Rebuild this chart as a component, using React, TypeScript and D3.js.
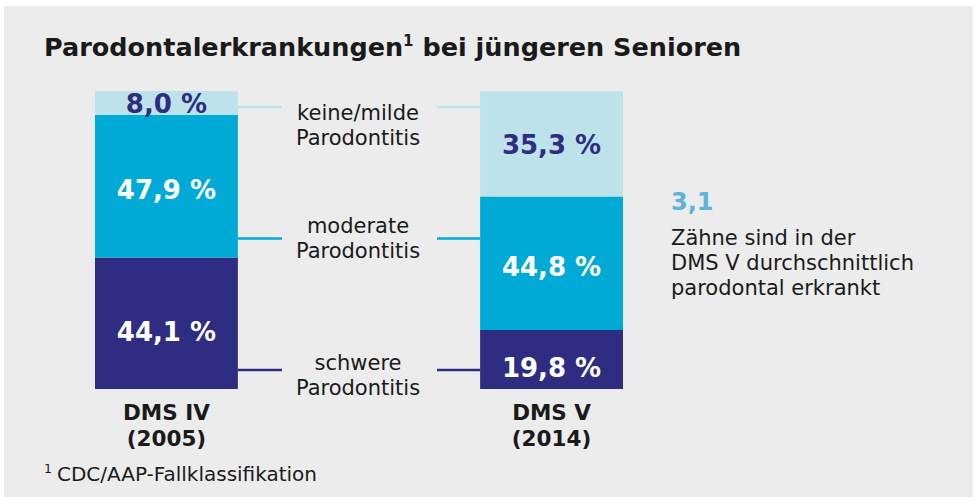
import React from 'react'
import * as d3 from 'd3'

const studies = ['DMS IV', 'DMS V']
const years = ['(2005)', '(2014)']
const severities = ['keine/milde', 'moderate', 'schwere']
const mild = [8.0, 35.3]
const moderate = [47.9, 44.8]
const severe = [44.1, 19.8]

const W = 978
const H = 501
const colors = ['#bde2ea', '#00aad6', '#2e2d82']
const labelColors = ['#2e2d82', '#ffffff', '#ffffff']
const labelShift = [0, 3, 8]
const legendDy = [13, -6, 0]

export default function App() {
  const x = d3.scaleBand().domain(studies).range([95, 623]).paddingInner(0.629)
  const y = d3.scaleLinear().domain([0, 100]).range([389, 91])
  const legendY = d3.scalePoint().domain(severities).range([107, 370])

  // stack from the bottom: schwere, moderate, keine/milde
  const rows = studies.map((s, i) => ({ study: s, keine: mild[i], moderate: moderate[i], schwere: severe[i] }))
  const stack = d3.stack<any>().keys(['schwere', 'moderate', 'keine'])(rows)
  const keyIdx: Record<string, number> = { keine: 0, moderate: 1, schwere: 2 }

  const fmt = (v: number) => v.toFixed(1).replace('.', ',') + ' %'
  const bw = x.bandwidth()
  const legendCx = 358

  return (
    <svg width={W} height={H} style={{ position: 'absolute', left: 0, top: 0, fontFamily: 'DejaVu Sans' }}>
      <rect x={0} y={0} width={W} height={H} fill="#ffffff" />
      <rect x={4} y={6} width={969} height={491} fill="#ebeceb" />

      <text x={44} y={56} fontSize={25.5} fontWeight="bold" fill="#1a1a1a">
        Parodontalerkrankungen<tspan fontSize={15} dy={-10}>1</tspan>
        <tspan dy={10}> bei jüngeren Senioren</tspan>
      </text>

      {stack.map(layer => {
        const k = keyIdx[layer.key]
        return layer.map((d, i) => {
          const x0 = x(studies[i])!
          const top = y(d[1])
          const bot = y(d[0])
          const v = d[1] - d[0]
          return (
            <g key={layer.key + i}>
              <rect x={x0} y={top} width={bw} height={bot - top} fill={colors[k]} />
              <text x={x0 + bw / 2} y={(top + bot) / 2 + 10 + labelShift[k]} textAnchor="middle"
                fontSize={26} fontWeight="bold" fill={labelColors[k]}>{fmt(v)}</text>
            </g>
          )
        })
      })}

      {severities.map((s, k) => {
        const ly = legendY(s)!
        return (
          <g key={s}>
            <line x1={x(studies[0])! + bw} x2={282} y1={ly} y2={ly} stroke={colors[k]} strokeWidth={2.5} />
            <line x1={437} x2={x(studies[1])!} y1={ly} y2={ly} stroke={colors[k]} strokeWidth={2.5} />
            <text x={legendCx} y={ly + legendDy[k]} textAnchor="middle" fontSize={21} fill="#1a1a1a">
              {s}
              <tspan x={legendCx} dy={25}>Parodontitis</tspan>
            </text>
          </g>
        )
      })}

      {studies.map((s, i) => (
        <text key={s} x={x(s)! + bw / 2} y={420} textAnchor="middle" fontSize={21.5} fontWeight="bold" fill="#1a1a1a">
          {s}
          <tspan x={x(s)! + bw / 2} dy={26}>{years[i]}</tspan>
        </text>
      ))}

      <text x={671} y={210} fontSize={24} fontWeight="bold" fill="#5ab4dc">3,1</text>
      <text x={671} y={245} fontSize={21} fill="#1a1a1a">
        Zähne sind in der
        <tspan x={671} dy={25}>DMS V durchschnittlich</tspan>
        <tspan x={671} dy={25}>parodontal erkrankt</tspan>
      </text>

      <text x={44} y={481} fontSize={20} fill="#1a1a1a">
        <tspan fontSize={12.5} dy={-8}>1</tspan>
        <tspan dx={5} dy={8}>CDC/AAP-Fallklassifikation</tspan>
      </text>
    </svg>
  )
}
